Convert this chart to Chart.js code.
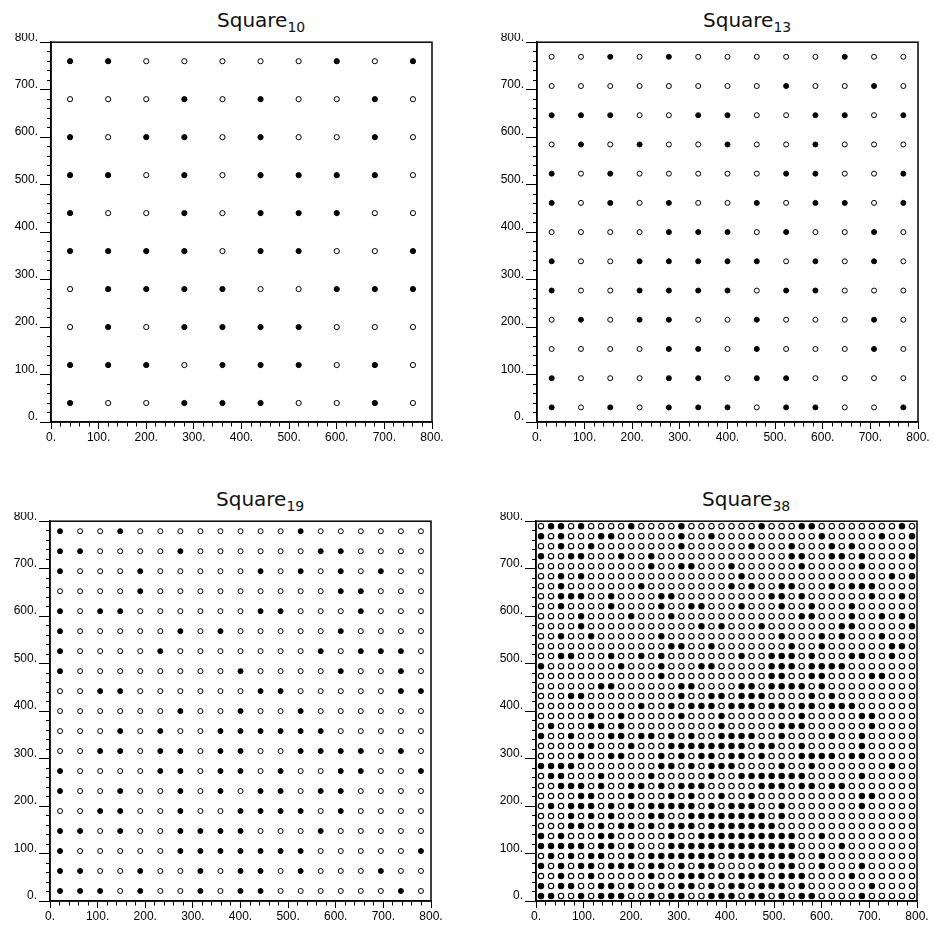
<!DOCTYPE html>
<html>
<head>
<meta charset="utf-8">
<script src="https://cdn.jsdelivr.net/npm/chart.js@4.4.1/dist/chart.umd.min.js"></script>
<style>
  html, body { margin: 0; padding: 0; background: #fff; }
  body { width: 934px; height: 933px; position: relative; overflow: hidden; }
  .title { position: absolute; font-family: "DejaVu Sans", sans-serif; font-size: 20px; line-height: 20px; color: #111; white-space: nowrap; }
  .title sub { font-size: 14px; line-height: 0; vertical-align: -5px; }
  canvas { position: absolute; }
</style>
</head>
<body>
<div class="title" id="t10">Square<sub>10</sub></div>
<div class="title" id="t13">Square<sub>13</sub></div>
<div class="title" id="t19">Square<sub>19</sub></div>
<div class="title" id="t38">Square<sub>38</sub></div>
<canvas id="c10" width="446" height="417"></canvas>
<canvas id="c13" width="446" height="417"></canvas>
<canvas id="c19" width="446" height="417"></canvas>
<canvas id="c38" width="446" height="417"></canvas>
<script>
// point coordinates of each grid (same on x and y)
const grid10 = [40, 120, 200, 280, 360, 440, 520, 600, 680, 760];
const grid13 = [30.8, 92.3, 153.8, 215.4, 276.9, 338.5, 400, 461.5, 523.1, 584.6, 646.2, 707.7, 769.2];
const grid19 = [21.1, 63.2, 105.3, 147.4, 189.5, 231.6, 273.7, 315.8, 357.9, 400,
                442.1, 484.2, 526.3, 568.4, 610.5, 652.6, 694.7, 736.8, 778.9];
const grid38 = [10.5, 31.6, 52.6, 73.7, 94.7, 115.8, 136.8, 157.9, 178.9, 200,
                221.1, 242.1, 263.2, 284.2, 305.3, 326.3, 347.4, 368.4, 389.5, 410.5,
                431.6, 452.6, 473.7, 494.7, 515.8, 536.8, 557.9, 578.9, 600, 621.1,
                642.1, 663.2, 684.2, 705.3, 726.3, 747.4, 768.4, 789.5];

// 1 = filled dot, 0 = open circle; rows listed from the top of the plot down
const fill10 = [
  '1100000101',
  '0001010010',
  '1011010010',
  '1101011110',
  '1001011100',
  '1111011001',
  '0111100111',
  '0101111000',
  '1110111010',
  '1001110010'
];
const fill13 = [
  '0010100000100',
  '0000000010010',
  '1110011001101',
  '0101001001000',
  '1010000011001',
  '1010100101101',
  '0000111010010',
  '1001111101010',
  '1001111011000',
  '0101100100010',
  '0000110100010',
  '1000110110000',
  '1010111011001'
];
const fill19 = [
  '1001000000001000000',
  '1100001000000110000',
  '1000100000101010100',
  '0000100000000011000',
  '1011000000110001000',
  '1000001010000010000',
  '1000010000000101110',
  '1000000001000010010',
  '0011000000110000011',
  '0000001001001000000',
  '0001010011111100000',
  '0011011011001111010',
  '1000011011010011001',
  '1001001010110110000',
  '0011001001111010000',
  '1101001111000100000',
  '1000001111111000001',
  '1100100101101000100',
  '1110100101100000010'
];
const fill38 = [
  '011010000100001000' + '00001000110000000010',
  '101000110000001001' + '00000000001000001001',
  '001001000000001000' + '00010001000101000000',
  '100110001001000000' + '00000001100110100001',
  '000000000001001100' + '01000000100000100000',
  '001010000000000000' + '00100000000000000101',
  '001000000010000000' + '01010011000101110000',
  '001110010000110000' + '00000110100000010010',
  '001000010000100110' + '00100010010001000000',
  '000010000100010000' + '00000000110001001010',
  '000010000000000010' + '10001000000011000001',
  '001001000000100000' + '00000010001010001000',
  '000000000000011001' + '00000001001000000110',
  '001100010010100000' + '00100111010001100100',
  '100000001000100011' + '00000111011110000000',
  '000000000000100000' + '00000110011000011000',
  '000000110000001100' + '00110111101000000000',
  '000110000000001001' + '10111000010100000000',
  '000000000010010111' + '01110110110111000000',
  '000001001000001000' + '10000000100000110000',
  '010001101000000000' + '10000011100000010000',
  '100100011011010100' + '11110010000100100000',
  '000001000100011111' + '11101100100000100000',
  '000010011000101011' + '01101000111101100000',
  '111100000000110101' + '11000010010000000100',
  '011000100001000001' + '00111111100000100000',
  '001110100110101110' + '00001110110110000000',
  '000011000100010100' + '10010000000000110000',
  '010111010101111101' + '01110010000000100000',
  '000101010001100111' + '11111010000000000000',
  '000110101101011101' + '11111100000000000000',
  '101000110000010011' + '11111111001000000000',
  '111110110100011111' + '11111111000010000000',
  '010101100101111111' + '01111111001000000000',
  '101011011101101011' + '00001011001000100000',
  '001001000001001110' + '10111011100001000000',
  '101100110100101101' + '01101110100000010000',
  '110010111001011001' + '11011010110000100000'
];

const majorTicks = [0, 100, 200, 300, 400, 500, 600, 700, 800];
const tickText = ['0.', '100.', '200.', '300.', '400.', '500.', '600.', '700.', '800.'];

const frame = {
  id: 'frame',
  afterDraw(chart) {
    const a = chart.chartArea, ctx = chart.ctx;
    ctx.save();
    ctx.strokeStyle = '#000';
    ctx.lineWidth = 1.5;
    ctx.strokeRect(a.left, a.top, a.right - a.left, a.bottom - a.top);
    ctx.restore();
  }
};

function tickLabel(v) {
  const i = majorTicks.indexOf(v);
  return i < 0 ? '' : tickText[i];
}

function makePlot(id, grid, fill, left, top, r, bw) {
  const n = grid.length;
  const filled = [], open = [];
  fill.forEach((row, ri) => {
    for (let c = 0; c < n; c++) {
      const p = {x: grid[c], y: grid[n - 1 - ri]};
      (row[c] === '1' ? filled : open).push(p);
    }
  });

  const canvas = document.getElementById('c' + id);
  canvas.style.left = (left - 50) + 'px';
  canvas.style.top = (top - 8) + 'px';
  const t = document.getElementById('t' + id);
  t.style.left = (left + 166) + 'px';
  t.style.top = (top - 31) + 'px';

  const font = {family: '"Liberation Sans", Arial, sans-serif', size: 12};
  new Chart(canvas, {
    type: 'scatter',
    data: {
      datasets: [
        {data: open, pointStyle: 'circle', pointRadius: r, pointBorderWidth: bw,
         pointBackgroundColor: '#fff', pointBorderColor: '#000'},
        {data: filled, pointStyle: 'circle', pointRadius: r, pointBorderWidth: bw,
         pointBackgroundColor: '#000', pointBorderColor: '#000'}
      ]
    },
    options: {
      responsive: false,
      animation: false,
      events: [],
      layout: {padding: {left: 0, top: 8, right: 15, bottom: 4}},
      plugins: {legend: {display: false}, tooltip: {enabled: false}},
      scales: {
        x: {
          type: 'linear', position: 'bottom', min: 0, max: 800,
          afterFit: s => { s.height = 24; },
          border: {color: '#000', width: 1.5},
          grid: {
            drawOnChartArea: false, tickLength: 7, tickColor: '#000', tickWidth: 1,
            tickBorderDash: ctx => (ctx.tick && ctx.tick.value % 100 === 0) ? [] : [4, 100]
          },
          ticks: {stepSize: 20, autoSkip: false, maxRotation: 0, padding: 1,
                  color: '#000', font: font, callback: tickLabel}
        },
        y: {
          type: 'linear', position: 'left', min: 0, max: 800,
          afterFit: s => { s.width = 50; },
          border: {color: '#000', width: 1.5},
          grid: {
            drawOnChartArea: false, tickLength: 11, tickColor: '#000', tickWidth: 1,
            tickBorderDash: ctx => (ctx.tick && ctx.tick.value % 100 === 0) ? [] : [0, 7, 4, 100]
          },
          ticks: {stepSize: 20, autoSkip: false, padding: 2, labelOffset: -5,
                  color: '#000', font: font, callback: tickLabel}
        }
      }
    },
    plugins: [frame]
  });
}

makePlot('10', grid10, fill10, 51, 41, 2.6, 1);
makePlot('13', grid13, fill13, 537, 41, 2.5, 1);
makePlot('19', grid19, fill19, 50, 520, 2.5, 1);
makePlot('38', grid38, fill38, 536, 520, 2.7, 1.1);
</script>
</body>
</html>
